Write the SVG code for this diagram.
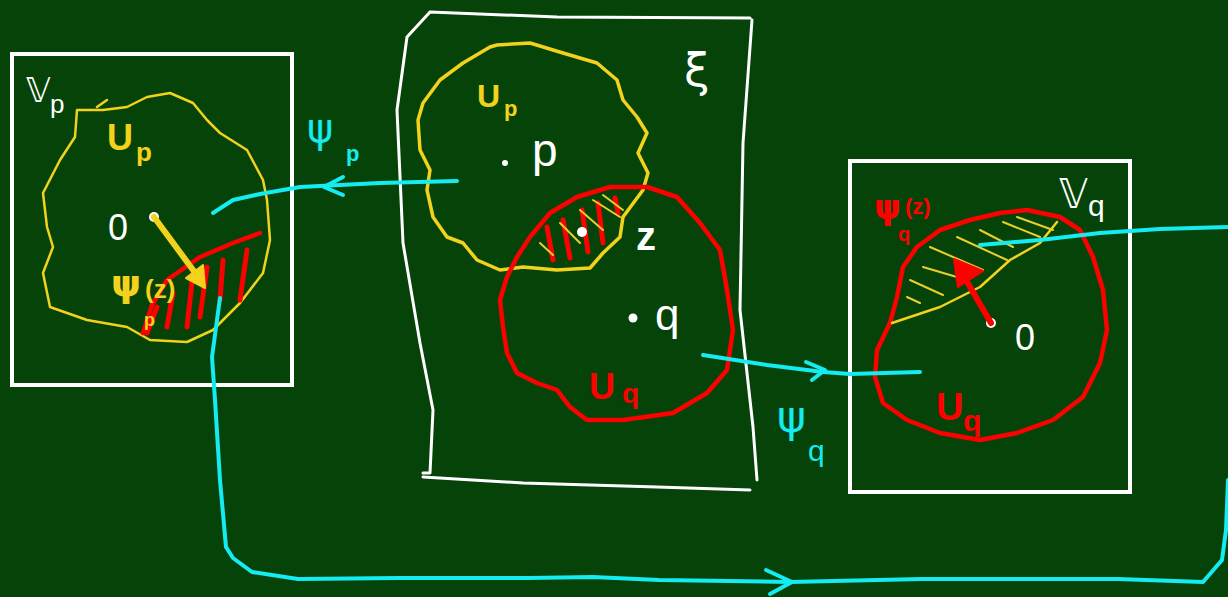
<svg xmlns="http://www.w3.org/2000/svg" width="1228" height="597" viewBox="0 0 1228 597">
<style>
.bg{fill:#054308}
.wbox{fill:none;stroke:#ffffff;stroke-width:4}
.wline{fill:none;stroke:#ffffff;stroke-width:3;stroke-linejoin:round;stroke-linecap:round}
.yl{fill:none;stroke:#f2d21c;stroke-width:3.5;stroke-linejoin:round;stroke-linecap:round}
.ylt{fill:none;stroke:#f2d21c;stroke-width:2.5;stroke-linejoin:round;stroke-linecap:round}
.yh{fill:none;stroke:#e8cf2a;stroke-width:2;stroke-linecap:round}
.rd{fill:none;stroke:#ff0000;stroke-width:4.5;stroke-linejoin:round;stroke-linecap:round}
.rh{fill:none;stroke:#ff0000;stroke-width:5;stroke-linecap:round}
.cy{fill:none;stroke:#14ecf2;stroke-width:4;stroke-linejoin:round;stroke-linecap:round}
.dot{fill:#ffffff}
.t{font-family:"Liberation Sans","DejaVu Sans",sans-serif}
.g{font-family:"DejaVu Sans","Liberation Sans",sans-serif}
.w{fill:#ffffff}
.y{fill:#f2d21c;font-weight:bold}
.r{fill:#ff0000;font-weight:bold}
.c{fill:#14ecf2}
</style>
<rect class="bg" x="0" y="0" width="1228" height="597"/>

<g id="node-Wp">
  <rect class="wbox" x="12" y="54" width="280" height="331"/>
  <text class="g w" x="26" y="102" font-size="34">𝕍</text>
  <text class="t w" x="50" y="113" font-size="26">p</text>
  <path class="ylt" d="M97,107 L107,100 M103,110 L77,110 L75,137 L60,160 L43,193 L47,227 L53,247 L43,273 L50,307 L87,320 L127,327 L150,340 L187,342 L213,330 L240,303 L263,273 L270,240 L267,200 L263,180 L247,150 L220,133 L207,120 L193,103 L170,93 L147,97 L127,107 L103,110"/>
  <text class="t y" x="107" y="150" font-size="36">U</text>
  <text class="t y" x="136" y="161" font-size="26">p</text>
  <path class="rd" d="M143,333 L152,305 L167,280 L200,257 L233,243 L260,233"/>
  <path class="rh" d="M147,333 L157,307 M167,327 L173,293 M187,327 L193,273 M200,317 L207,267 M220,300 L223,260 M240,300 L247,250"/>
  <text class="t w" x="108" y="240" font-size="36">0</text>
  <circle class="dot" cx="154" cy="217" r="5"/>
  <path d="M154,217 L196,274" stroke="#f2d21c" stroke-width="6" stroke-linecap="round" fill="none"/>
  <path d="M205,288 L186,278 L203,265 Z" fill="#f2d21c" stroke="#f2d21c" stroke-width="2" stroke-linejoin="round"/>
  <text class="g y" x="111" y="296" font-size="38">ψ</text>
  <text class="t y" x="145" y="298" font-size="26">(z)</text>
  <text class="t y" x="144" y="326" font-size="18">p</text>
</g>

<g id="node-X">
  <path class="wline" d="M430,12 L407,37 L397,110 L403,243 L420,343 L433,410 L430,473 L423,473 M423,477 L523,483 L657,487 L750,490 M757,480 L753,427 L740,310 L743,143 L752,20 M430,12 L557,17 L750,18"/>
  <text class="g w" x="684" y="86" font-size="46">ξ</text>
  <path class="yl" d="M497,45 L530,43 L563,53 L597,63 L617,80 L623,100 L637,117 L647,133 L638,153 L648,173 L643,190 L623,217 L620,237 L603,253 L590,268 L557,270 L523,267 L500,270 L477,260 L463,243 L447,237 L433,217 L427,190 L430,170 L420,150 L418,120 L423,103 L440,80 L463,63 L490,47 Z"/>
  <text class="t y" x="477" y="107" font-size="32">U</text>
  <text class="t y" x="504" y="116" font-size="22">p</text>
  <circle class="dot" cx="505" cy="163" r="3"/>
  <text class="t w" x="532" y="166" font-size="46">p</text>
  <path class="rd" d="M647,187 L677,197 L700,223 L720,250 L727,290 L733,330 L727,370 L707,393 L673,413 L623,420 L587,420 L570,407 L557,390 L537,383 L517,373 L507,353 L503,327 L500,300 L507,277 L517,257 L530,237 L550,213 L577,197 L610,187 L630,187 Z"/>
  <path class="rh" d="M547,227 L553,260 M563,220 L570,258 M582,210 L588,252 M598,203 L603,243 M615,198 L618,213"/>
  <path class="yh" d="M540,243 L553,255 M560,223 L580,243 M580,210 L603,230 M593,200 L620,217 M603,195 L623,210"/>
  <circle class="dot" cx="582" cy="232" r="5"/>
  <text class="t w" x="636" y="250" font-size="40" font-weight="bold">z</text>
  <circle class="dot" cx="633" cy="318" r="4.5"/>
  <text class="t w" x="655" y="330" font-size="44">q</text>
  <text class="t r" x="589" y="399" font-size="36">U</text>
  <text class="t r" x="622" y="403" font-size="28">q</text>
</g>

<g id="node-Wq">
  <rect class="wbox" x="850" y="161" width="280" height="331"/>
  <text class="g w" x="1059" y="208" font-size="40">𝕍</text>
  <text class="t w" x="1088" y="216" font-size="30">q</text>
  <path class="rd" d="M917,247 L940,230 L970,220 L1000,213 L1027,210 L1060,217 L1080,230 L1093,257 L1103,290 L1107,330 L1100,363 L1083,397 L1053,420 L1017,433 L980,440 L940,433 L907,420 L883,403 L875,377 L877,350 L890,323 L897,297 L903,267 Z"/>
  <path class="ylt" d="M892,323 L940,307 L980,287 L1010,260 L1040,243 L1057,222"/>
  <path class="yh" d="M907,297 L920,303 M910,280 L943,295 M923,267 L967,280 M930,247 L983,270 M957,237 L1007,260 M980,230 L1013,247 M1003,222 L1040,237 M1017,217 L1053,230"/>
  <circle class="dot" cx="991" cy="323" r="5"/>
  <path d="M991,323 L966,280" stroke="#ff0000" stroke-width="6" stroke-linecap="round" fill="none"/>
  <path d="M954,259 L958,287 L983,271 Z" fill="#ff0000" stroke="#ff0000" stroke-width="2" stroke-linejoin="round"/>
  <text class="t w" x="1015" y="350" font-size="36">0</text>
  <text class="g r" x="874" y="219" font-size="34">ψ</text>
  <text class="t r" x="905" y="214" font-size="22">(z)</text>
  <text class="t r" x="898" y="241" font-size="20">q</text>
  <text class="t r" x="936" y="420" font-size="38">U</text>
  <text class="t r" x="963" y="431" font-size="30">q</text>
</g>

<g id="connectors">
  <path class="cy" d="M457,181 L380,183 L300,187 L260,194 L233,200 L213,213"/>
  <path class="cy" d="M343,177 L324,187 L343,195"/>
  <text class="g c" x="307" y="142" font-size="40">ψ</text>
  <text class="t c" x="346" y="161" font-size="22" font-weight="bold">p</text>
  <path class="cy" d="M703,355 L767,365 L823,372 L850,374 L920,372"/>
  <path class="cy" d="M806,362 L825,370 L812,380"/>
  <text class="g c" x="777" y="432" font-size="44">ψ</text>
  <text class="t c" x="808" y="461" font-size="30">q</text>
  <path class="cy" d="M980,245 L1040,240 L1100,233 L1160,229 L1228,227"/>
  <path class="cy" d="M220,298 L212,357 L215,400 L220,480 L226,547 L233,558 L252,572 L298,579 L400,578 L528,578 L593,577 L659,580 L790,582 L921,579 L1118,579 L1203,582 L1222,560 L1226,530 L1228,480"/>
  <path class="cy" d="M766,570 L792,582 L770,594"/>
</g>
</svg>
